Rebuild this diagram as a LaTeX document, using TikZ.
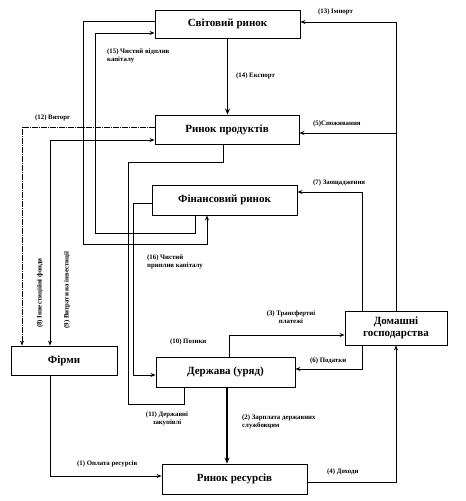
\documentclass[tikz,border=0pt]{standalone}
\usepackage{fontspec}
\setmainfont{Liberation Serif}
\usetikzlibrary{arrows.meta}
\tikzset{
  box/.style={draw, line width=0.9pt, font=\bfseries\fontsize{11}{12.5}\selectfont, inner sep=0pt, align=center},
  ln/.style={line width=0.9pt},
  arr/.style={line width=0.9pt, -{Stealth[length=5pt,width=4pt]}},
  tarr/.style={line width=1.8pt, -{Stealth[length=6pt,width=5pt]}},
  lbl/.style={font=\bfseries\fontsize{6.8}{8}\selectfont, inner sep=0pt, align=left},
}
\begin{document}
\begin{tikzpicture}[x=1pt,y=-1pt]
\useasboundingbox (0,0) rectangle (466,501);
% boxes
\node[box, minimum width=145pt, minimum height=28pt] (sr) at (227.5,24) {Світовий ринок};
\node[box, minimum width=144pt, minimum height=29pt] (rp) at (227,129.5) {Ринок продуктів};
\node[box, minimum width=145pt, minimum height=30pt] (fr) at (224.5,200) {Фінансовий ринок};
\node[box, minimum width=102pt, minimum height=34pt] (dg) at (396,328) {Домашні\\господарства};
\node[box, minimum width=106pt, minimum height=29pt] (fi) at (64,360.5) {Фірми};
\node[box, minimum width=139pt, minimum height=30pt] (gov) at (225.5,372) {Держава (уряд)};
\node[box, minimum width=145pt, minimum height=30pt] (rr) at (234.5,479) {Ринок ресурсів};
% helper coordinates
\coordinate (c5) at (396,133);
\coordinate (c12) at (22,127);
\coordinate (c9) at (50,140);
\coordinate (c15a) at (195,233);
\coordinate (c15b) at (95,33);
\coordinate (c16a) at (83,21);
\coordinate (c16b) at (207,244);
\coordinate (c11r) at (223,162);
\coordinate (c11a) at (128,162);
\coordinate (c11b) at (184,404);
\coordinate (c10a) at (133,203);
\coordinate (c10b) at (133,375);
\coordinate (c7) at (362,192);
\coordinate (c3) at (229,335);
\coordinate (c6) at (362,369);
\coordinate (c2) at (227,420);
\coordinate (c1) at (50,476);
\coordinate (c4) at (396,482);
% connectors
\draw[arr] (dg.north) |- ([yshift=2pt]sr.east);
\draw[arr] (c5) -- (c5 -| rp.east);
\draw[tarr] (sr.south) -- (sr.south |- rp.north);
\draw[arr, line width=0.7pt, dash pattern=on 6pt off 1pt on 1pt off 1pt] (c12 -| rp.west) -- (c12) -- (c12 |- fi.north);
\draw[line width=0.9pt, {Stealth[length=5pt,width=4pt]}-{Stealth[length=5pt,width=4pt]}] (c9 |- fi.north) -- (c9) -- (c9 -| rp.west);
\draw[arr] (c15a |- fr.south) -- (c15a) -| (c15b) -- (c15b -| sr.west);
\draw[arr] (c16a -| sr.west) -- (c16a) |- (c16b) -- (c16b |- fr.south);
\draw[ln] (c11r |- rp.south) -- (c11r) -- (c11a) |- (c11b) -- (c11b |- gov.south);
\draw[arr] (c10a -| fr.west) -- (c10a) -- (c10b) -- (c10b -| gov.west);
\draw[arr] (c7 |- dg.north) -- (c7) -- (c7 -| fr.east);
\draw[arr] (c3 |- gov.north) -- (c3) -- (c3 -| dg.west);
\draw[arr] (c6 |- dg.south) -- (c6) -- (c6 -| gov.east);
\draw[tarr] (c2 |- gov.south) -- (c2 |- rr.north);
\draw[arr] (c1 |- fi.south) -- (c1) -- (c1 -| rr.west);
\draw[arr] (c4 -| rr.east) -- (c4) -- (c4 |- dg.south);
% labels
\node[lbl, anchor=west] (l13) at (318,12) {(13) Імпорт};
\node[lbl, anchor=west] (l5) at (313,124) {(5)Споживання};
\node[lbl, anchor=west] (l14) at (236,76) {(14) Експорт};
\node[lbl, anchor=north west] (l15) at (107,49) {(15) Чистий відплив\\капіталу};
\node[lbl, anchor=west] (l12) at (35,118) {(12) Виторг};
\node[lbl, anchor=north west] (l16) at (147,255) {(16) Чистий\\приплив капіталу};
\node[lbl, anchor=west] (l7) at (313,183) {(7) Заощадження};
\node[lbl, anchor=north, align=center] (l3) at (291,311) {(3) Трансфертні\\платежі};
\node[lbl, anchor=west] (l10) at (170,342) {(10) Позики};
\node[lbl, anchor=west] (l6) at (310,361) {(6) Податки};
\node[lbl, anchor=north, align=center] (l11) at (167,412) {(11) Державні\\закупівлі};
\node[lbl, anchor=north west] (l2) at (242,415) {(2) Зарплата державних\\службовцям};
\node[lbl, anchor=west] (l1) at (77,464) {(1) Оплата ресурсів};
\node[lbl, anchor=west] (l4) at (327,472) {(4) Доходи};
\node[lbl, rotate=90] (l8) at (40,293) {(8) Інвестиційні фонди};
\node[lbl, rotate=90] (l9) at (67,290) {(9) Витрати на інвестиції};
\end{tikzpicture}
\end{document}
